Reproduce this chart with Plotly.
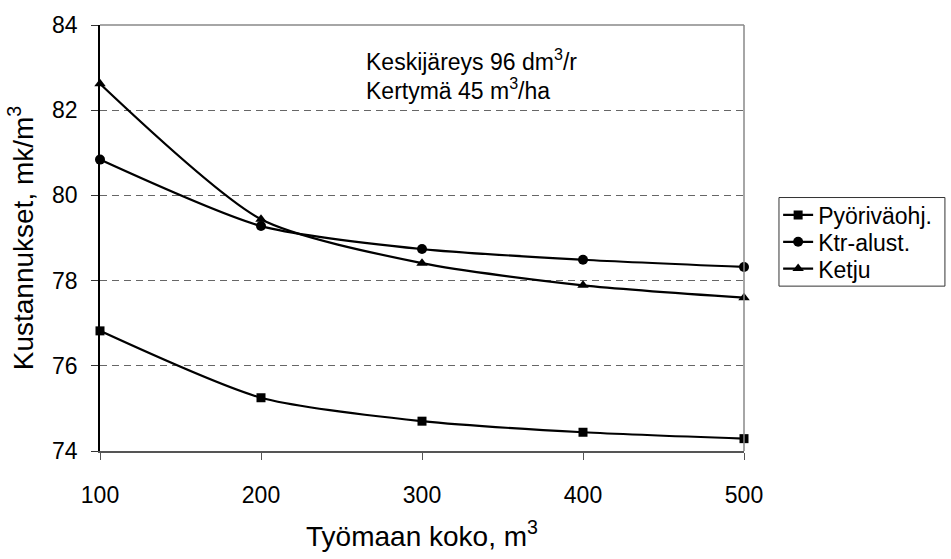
import plotly.graph_objects as go

# Work-site size (m3) and unit costs (mk/m3) for three harvesting methods
tyomaan_koko = [100, 200, 300, 400, 500]
pyorivaohj = [76.82, 75.25, 74.70, 74.44, 74.29]
ktr_alust = [80.84, 79.28, 78.74, 78.49, 78.32]
ketju = [82.62, 79.44, 78.41, 77.89, 77.60]

series = [
    ("Pyöriväohj.", pyorivaohj, "square", 9, "legend"),
    ("Ktr-alust.", ktr_alust, "circle", 10, "legend2"),
    ("Ketju", ketju, "triangle-up", 10, "legend3"),
]

FONT = "Liberation Sans, Arial, sans-serif"
FS = 23

fig = go.Figure()
for name, values, symbol, size, leg in series:
    fig.add_trace(go.Scatter(
        x=tyomaan_koko, y=values, name=name, legend=leg,
        mode="lines+markers", cliponaxis=False,
        line=dict(color="black", width=2.2, shape="spline", smoothing=0.7),
        marker=dict(symbol=symbol, size=size, color="black"),
    ))

# One single-entry legend per series so the rows sit close together;
# a shared frame is drawn around them below.
legend_rows = {"legend": 0.554, "legend2": 0.491, "legend3": 0.428}
legend_style = dict(
    x=1.053, xanchor="left", yanchor="middle",
    borderwidth=0, bgcolor="rgba(0,0,0,0)",
    font=dict(family=FONT, size=FS, color="black"),
    itemwidth=30,
)
for key, ypos in legend_rows.items():
    fig.update_layout({key: dict(legend_style, y=ypos)})

fig.update_layout(
    width=951, height=559,
    margin=dict(l=100, r=207, t=18, b=97),
    paper_bgcolor="white", plot_bgcolor="white",
    font=dict(family=FONT, size=FS, color="black"),
    showlegend=True,
    xaxis=dict(
        range=[100, 500], tickvals=tyomaan_koko,
        showgrid=False, zeroline=False,
        showline=True, linecolor="#555", linewidth=2,
        ticks="outside", ticklen=7, tickcolor="#555", tickwidth=1,
        ticklabelstandoff=15,
        title=dict(text="Työmaan koko, m<sup>3</sup>", standoff=20),
    ),
    yaxis=dict(
        range=[74, 84], dtick=2,
        showgrid=True, gridcolor="#666", griddash="7px,5px", gridwidth=1,
        zeroline=False,
        showline=True, linecolor="black", linewidth=1.5,
        ticks="outside", ticklen=7, tickcolor="#333", tickwidth=1,
        ticklabelstandoff=9,
        title=dict(text="Kustannukset, mk/m<sup>3</sup>", standoff=10),
    ),
    shapes=[
        # plot-area frame (top and right)
        dict(type="line", xref="paper", yref="paper", x0=0, x1=1, y0=1, y1=1,
             line=dict(color="#888", width=1.5)),
        dict(type="line", xref="paper", yref="paper", x0=1, x1=1, y0=0, y1=1,
             line=dict(color="#888", width=1.5)),
        # legend frame
        dict(type="rect", xref="paper", yref="paper",
             x0=1.0543, x1=1.312, y0=0.387, y1=0.595,
             line=dict(color="#333", width=1), fillcolor="rgba(0,0,0,0)"),
    ],
    annotations=[
        dict(xref="paper", yref="paper", x=0.41, y=0.917, xanchor="left",
             yanchor="middle", showarrow=False, align="left",
             text="Keskijäreys 96 dm<sup>3</sup>/r",
             font=dict(family=FONT, size=FS)),
        dict(xref="paper", yref="paper", x=0.41, y=0.849, xanchor="left",
             yanchor="middle", showarrow=False, align="left",
             text="Kertymä 45 m<sup>3</sup>/ha",
             font=dict(family=FONT, size=FS)),
    ],
)

fig.write_html("out.html")
